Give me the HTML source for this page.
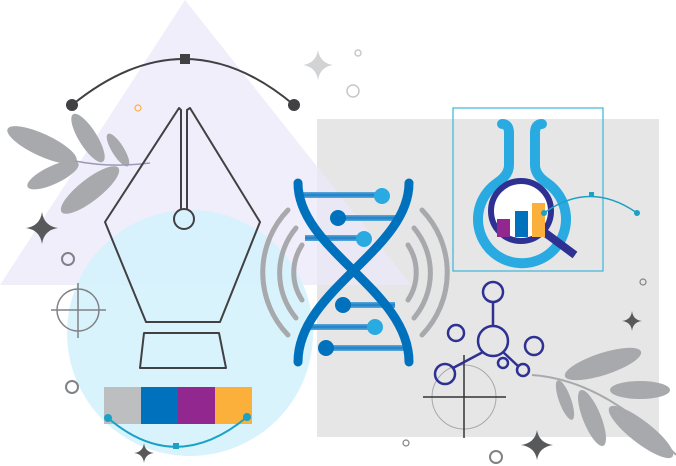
<!DOCTYPE html>
<html><head><meta charset="utf-8"><style>html,body{margin:0;padding:0;background:#fff}svg{display:block}</style></head>
<body>
<svg width="676" height="466" viewBox="0 0 676 466" xmlns="http://www.w3.org/2000/svg">
<defs>
<linearGradient id="rod" x1="0" y1="0" x2="0" y2="1"><stop offset="0" stop-color="#5aa9dc"/><stop offset="0.5" stop-color="#1e7fc4"/><stop offset="1" stop-color="#5aa9dc"/></linearGradient>
</defs>
<!-- gray panel -->
<rect x="317" y="119" width="342" height="318" fill="#e6e6e6"/>
<!-- lavender triangle -->
<polygon points="185,0 411,285 0,285" fill="#ece8fa" opacity="0.75"/>
<!-- light blue circle -->
<circle cx="190" cy="333" r="123" fill="#d2f1fd" opacity="0.85"/>

<!-- left leaves -->
<g fill="#a7a9ac">
<ellipse cx="42" cy="145" rx="38" ry="11" transform="rotate(25 42 145)"/>
<ellipse cx="88" cy="138" rx="28" ry="9" transform="rotate(58 88 138)"/>
<ellipse cx="118" cy="150" rx="19" ry="6" transform="rotate(58 118 150)"/>
<ellipse cx="53" cy="175" rx="28" ry="9" transform="rotate(-25 53 175)"/>
<ellipse cx="90" cy="190" rx="36" ry="11" transform="rotate(-38 90 190)"/>
</g>
<path d="M75,161 Q110,168 150,163" stroke="#9d97b8" stroke-width="1.5" fill="none"/>
<!-- right leaves -->
<g fill="#a7a9ac">
<ellipse cx="603" cy="364" rx="40" ry="11" transform="rotate(-18 603 364)"/>
<ellipse cx="640" cy="390" rx="30" ry="9"/>
<ellipse cx="565" cy="400" rx="21" ry="6" transform="rotate(70 565 400)"/>
<ellipse cx="592" cy="418" rx="30" ry="9" transform="rotate(68 592 418)"/>
<ellipse cx="641" cy="432" rx="40" ry="11" transform="rotate(38 641 432)"/>
</g>
<path d="M532,375 Q605,380 676,455" stroke="#a7a9ac" stroke-width="2" fill="none"/>

<!-- bezier arc -->
<path d="M72,105 Q185,13 294,105" stroke="#414042" stroke-width="2" fill="none"/>
<circle cx="72" cy="105" r="6" fill="#414042"/>
<circle cx="294" cy="105" r="6" fill="#414042"/>
<rect x="180" y="54" width="10" height="10" fill="#414042"/>

<!-- pen nib -->
<g stroke="#414042" stroke-width="2" fill="none" stroke-linejoin="round">
<path d="M181,210 L181,110 L179,108 L105,222 L146,322 L220,322 L260,222 L190,108 L187,110 L187,210"/>
<circle cx="184" cy="219" r="10"/>
<polygon points="144,333 219,333 226,368 140,368"/>
</g>

<!-- color bar -->
<rect x="104" y="387" width="37" height="37" fill="#bcbec0"/>
<rect x="141" y="387" width="37" height="37" fill="#0071bc"/>
<rect x="178" y="387" width="37" height="37" fill="#92278f"/>
<rect x="215" y="387" width="37" height="37" fill="#fbb03b"/>
<path d="M108,418 Q176,476 247,417" stroke="#1ba1c4" stroke-width="2" fill="none"/>
<circle cx="108" cy="418" r="4" fill="#1ba1c4"/><circle cx="247" cy="417" r="4" fill="#1ba1c4"/>
<rect x="173" y="443" width="6" height="6" fill="#1ba1c4"/>

<!-- crosshair left -->
<g stroke="#808285" stroke-width="1.5" fill="none">
<circle cx="78" cy="310" r="21"/>
<line x1="51" y1="310" x2="106" y2="310"/><line x1="78" y1="283" x2="78" y2="338"/>
</g>

<!-- sound arcs -->
<g stroke="#a7a9ac" stroke-width="5" fill="none" stroke-linecap="round">
<path d="M288,210 A90,90 0 0 0 288,335"/>
<path d="M296,228 A70,70 0 0 0 296,318"/>
<path d="M302,245 A50,50 0 0 0 302,300"/>
<path d="M422,210 A90,90 0 0 1 422,335"/>
<path d="M414,228 A70,70 0 0 1 414,318"/>
<path d="M408,245 A50,50 0 0 1 408,300"/>
</g>

<!-- DNA -->
<g>
<rect x="303" y="192" width="80" height="6" fill="url(#rod)"/>
<rect x="338" y="215" width="62" height="6" fill="url(#rod)"/>
<rect x="305" y="235" width="60" height="6" fill="url(#rod)"/>
<rect x="343" y="302" width="52" height="6" fill="url(#rod)"/>
<rect x="308" y="324" width="67" height="6" fill="url(#rod)"/>
<rect x="326" y="345" width="80" height="6" fill="url(#rod)"/>
</g>
<g stroke="#0071bc" stroke-width="9" fill="none" stroke-linecap="round">
<path d="M298,183 C298,250 409,290 409,362"/>
<path d="M409,183 C409,250 298,290 298,362"/>
</g>
<circle cx="382" cy="196" r="8" fill="#29abe2"/>
<circle cx="338" cy="218" r="8" fill="#0071bc"/>
<circle cx="364" cy="239" r="8" fill="#29abe2"/>
<circle cx="343" cy="305" r="8" fill="#0071bc"/>
<circle cx="375" cy="327" r="8" fill="#29abe2"/>
<circle cx="326" cy="348" r="8" fill="#0071bc"/>

<!-- flask box -->
<rect x="453" y="108" width="150" height="163" fill="none" stroke="#3bb4d8" stroke-width="1.2"/>
<g stroke="#29abe2" stroke-width="10" fill="none" stroke-linecap="round">
<path d="M502,124 Q509,124 509,133 L509,165 Q509,175 497,183 A44,44 0 1 0 547,183 Q535,175 535,165 L535,133 Q535,124 542,124"/>
</g>
<circle cx="521" cy="211" r="30" fill="#fff" stroke="#2e3192" stroke-width="6"/>
<line x1="544" y1="232" x2="575" y2="255" stroke="#2e3192" stroke-width="8"/>
<rect x="497" y="219" width="13" height="18" fill="#92278f"/>
<rect x="515" y="211" width="13" height="26" fill="#0071bc"/>
<rect x="532" y="203" width="13" height="34" fill="#fbb03b"/>
<path d="M544,213 Q590,180 637,213" stroke="#1ba1c4" stroke-width="1.5" fill="none"/>
<circle cx="544" cy="213" r="3" fill="#1ba1c4"/><circle cx="637" cy="213" r="3" fill="#1ba1c4"/>
<rect x="589" y="192" width="5" height="5" fill="#1ba1c4"/>

<!-- crosshair bottom -->
<circle cx="464" cy="397" r="32" fill="none" stroke="#a7a9ac" stroke-width="1"/>
<line x1="423" y1="397" x2="506" y2="397" stroke="#333" stroke-width="1.5"/>
<line x1="464" y1="355" x2="464" y2="438" stroke="#333" stroke-width="1.5"/>

<!-- molecule -->
<g stroke="#2e3192" stroke-width="2.5" fill="none">
<line x1="493" y1="302" x2="493" y2="326"/>
<line x1="483" y1="352" x2="453" y2="368"/>
<line x1="503" y1="352" x2="518" y2="366"/>
<circle cx="493" cy="341" r="15"/>
<circle cx="493" cy="292" r="10"/>
<circle cx="456" cy="333" r="8"/>
<circle cx="534" cy="346" r="9"/>
<circle cx="503" cy="363" r="5"/>
<circle cx="523" cy="370" r="6"/>
<circle cx="445" cy="374" r="10"/>
</g>

<!-- sparkles -->
<g fill="#58595b">
<path d="M42,212 Q44,226 58,228 Q44,230 42,244 Q40,230 26,228 Q40,226 42,212Z"/>
<path d="M144,443 Q145,452 154,453 Q145,454 144,463 Q143,454 134,453 Q143,452 144,443Z"/>
<path d="M537,430 Q539,443 553,445 Q539,447 537,460 Q535,447 521,445 Q535,443 537,430Z"/>
<path d="M632,311 Q633,320 642,321 Q633,322 632,331 Q631,322 622,321 Q631,320 632,311Z"/>
</g>
<path d="M318,50 Q320,63 333,65 Q320,67 318,80 Q316,67 303,65 Q316,63 318,50Z" fill="#d1d3d4"/>

<!-- small circles -->
<g fill="none" stroke="#808285" stroke-width="2">
<circle cx="68" cy="259" r="6"/>
<circle cx="72" cy="387" r="6"/>
<circle cx="496" cy="457" r="6"/>
</g>
<g fill="none" stroke="#c7c8ca" stroke-width="1.5">
<circle cx="353" cy="91" r="6"/>
<circle cx="358" cy="53" r="3"/>
</g>
<g fill="none" stroke="#808285" stroke-width="1.2">
<circle cx="643" cy="282" r="3"/>
<circle cx="406" cy="443" r="3"/>
</g>
<circle cx="138" cy="108" r="3" fill="none" stroke="#fbb03b" stroke-width="1.2"/>
</svg>
</body></html>
